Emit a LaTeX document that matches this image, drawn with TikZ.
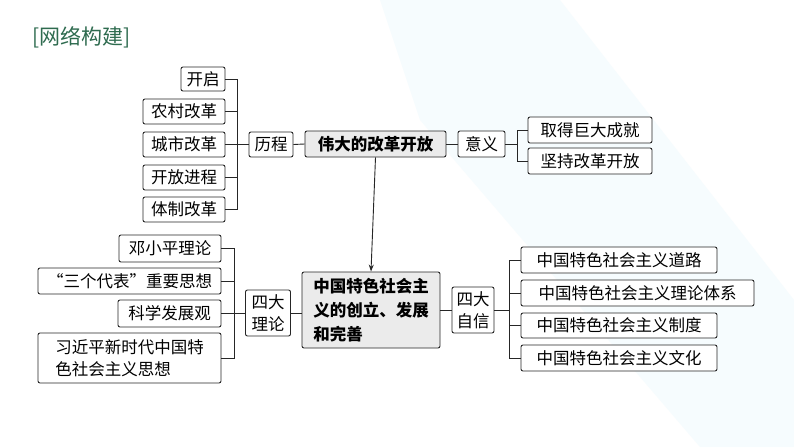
\documentclass[tikz,border=0pt]{standalone}
\usepackage{fontspec}
\setmainfont{Noto Sans CJK SC}
\usetikzlibrary{arrows.meta}
\definecolor{ttl}{HTML}{2E6B4F}
\tikzset{
 bx/.style={draw=black!85,line width=0.9pt,rounded corners=2pt,fill=white,inner sep=0pt,font=\fontsize{16.5}{22}\selectfont,align=left},
 mainbx/.style={bx,fill=black!8,font=\fontsize{16.5}{22}\selectfont\bfseries},
 ln/.style={draw=black!85,line width=0.9pt}
}
\newcommand{\B}[6][bx]{\node[#1,minimum width={#4-#2},minimum height={#5-#3}] (#6) at ({(#2+#4)/2},{(#3+#5)/2})}
\begin{document}
\begin{tikzpicture}[x=1pt,y=-1pt]
\fill[white] (0,0) rectangle (794,447);
\fill[cyan!6,opacity=0.6] (380,0) -- (560,0) -- (794,300) -- (794,447) -- (700,447) -- (420,120) -- cycle;
\useasboundingbox (0,0) rectangle (794,447);
\node[anchor=west,text=ttl,font=\fontsize{21}{24}\selectfont,inner sep=0pt] (title) at (32,37) {[网络构建]};
\B{181}{67}{225}{91}{kq}{开启};
\B{143}{99}{225}{124}{nc}{农村改革};
\B{143}{132}{225}{157}{cs}{城市改革};
\B{143}{165}{225}{190}{kf}{开放进程};
\B{143}{197}{225}{222}{tz}{体制改革};
\B{249}{132}{293}{157}{lc}{历程};
\B[mainbx]{305}{131}{446}{157}{wd}{伟大的改革开放};
\B{458}{131}{505}{157}{yy}{意义};
\B{528}{117}{652}{143}{qd}{取得巨大成就};
\B{528}{148}{652}{174}{jc}{坚持改革开放};
\node[mainbx,minimum width=138,minimum height=76,font=\fontsize{16.5}{24}\selectfont\bfseries] (zg) at (371,310) {中国特色社会主\\义的创立、发展\\和完善};
\node[bx,minimum width=45,minimum height=46] (sl) at (268,313) {四大\\理论};
\node[bx,minimum width=42,minimum height=46] (sx) at (473,310) {四大\\自信};
\B{119}{235}{221}{262}{dx}{邓小平理论};
\B{38}{268}{221}{294}{sg}{“三个代表”重要思想};
\B{118}{300}{221}{327}{kx}{科学发展观};
\node[bx,minimum width=183,minimum height=50] (xj) at (129.5,358) {习近平新时代中国特\\色社会主义思想};
\B{521}{247}{717}{273}{dl}{中国特色社会主义道路};
\B{521}{280}{754}{306}{ll}{中国特色社会主义理论体系};
\B{521}{313}{717}{338}{zd}{中国特色社会主义制度};
\B{521}{345}{717}{371}{wh}{中国特色社会主义文化};
\foreach \n in {kq,nc,cs,kf,tz}{\draw[ln] (\n.east) -| (237,144.5);}
\draw[ln] (237,144.5) -- (lc.west);
\draw[ln] (lc.east) -- (wd.west);
\draw[ln] (wd.east) -- (yy.west);
\foreach \n in {qd,jc}{\draw[ln] (\n.west) -| (517,144);}
\draw[ln] (yy.east) -- (517,144);
\draw[ln,-{Stealth[length=7pt,width=5pt]}] (wd.south) -- (zg.north);
\foreach \n in {dx,sg,kx,xj}{\draw[ln] (\n.east) -| (234,313);}
\draw[ln] (234,313) -- (sl.west);
\draw[ln] (sl.east) -- (zg.west |- sl.east);
\draw[ln] (zg.east) -- (sx.west);
\foreach \n in {dl,ll,zd,wh}{\draw[ln] (\n.west) -| (509,310);}
\draw[ln] (sx.east) -- (509,310);
\end{tikzpicture}
\end{document}
